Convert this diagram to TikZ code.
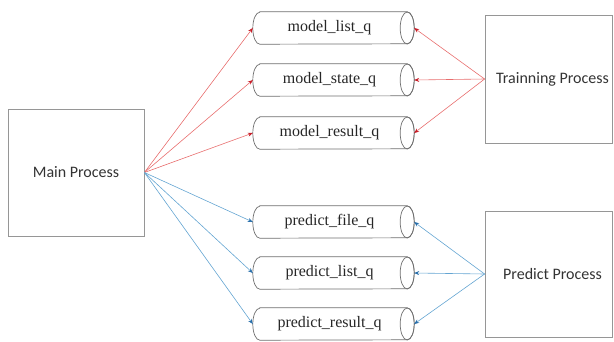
\documentclass[tikz,border=0pt]{standalone}
\usepackage{fontspec}
\setmainfont{Liberation Serif}
\newfontfamily\procfont{Carlito}
\usetikzlibrary{arrows.meta}
\definecolor{redline}{RGB}{232,110,110}
\definecolor{redtip}{RGB}{200,30,40}
\definecolor{blueline}{RGB}{100,165,210}
\definecolor{bluetip}{RGB}{40,110,170}
\definecolor{boxline}{RGB}{150,150,150}
\definecolor{cylline}{RGB}{110,110,110}
\tikzset{
  procbox/.style={draw=boxline, line width=0.8pt, rectangle, inner sep=0pt,
    font=\procfont\fontsize{16}{18}\selectfont, text=black!80},
  queue/.style={rectangle, minimum width=161pt, minimum height=32pt, inner sep=0pt,
    font=\fontsize{16}{18}\selectfont, text=black!85},
  queueline/.style={draw=cylline, line width=0.7pt},
  redarrow/.style={draw=redline, line width=0.6pt,
    -{Stealth[length=5pt,width=4pt,color=redtip]}},
  bluearrow/.style={draw=blueline, line width=0.6pt,
    -{Stealth[length=5pt,width=4pt,color=bluetip]}}
}
\begin{document}
\begin{tikzpicture}[x=1pt,y=1pt]
  \useasboundingbox (0,0) rectangle (614,-341);
  % process boxes
  \node[procbox, minimum width=136pt, minimum height=127pt] (main) at (76,-172.5) {Main Process};
  \node[procbox, minimum width=127pt, minimum height=128pt] (train) at (548.5,-79) {\hspace*{8pt}Trainning Process};
  \node[procbox, minimum width=127pt, minimum height=126pt] (pred) at (548.5,-274) {\hspace*{8pt}Predict Process};
  % queues
  \node[queue] (mlist) at (333.5,-28) {model\_list\_q\hspace*{8pt}};
  \node[queue] (mstate) at (333.5,-80) {model\_state\_q\hspace*{8pt}};
  \node[queue] (mres) at (333.5,-133) {model\_result\_q\hspace*{8pt}};
  \node[queue] (pfile) at (333.5,-222) {predict\_file\_q\hspace*{8pt}};
  \node[queue] (plist) at (333.5,-273) {predict\_list\_q\hspace*{8pt}};
  \node[queue] (pres) at (333.5,-324) {predict\_result\_q\hspace*{8pt}};
  % horizontal cylinders drawn round each queue node
  \foreach \q in {mlist,mstate,mres,pfile,plist,pres} {
    \draw[queueline] ([xshift=7pt]\q.north west) -- ([xshift=-7pt]\q.north east)
      arc[start angle=90, end angle=-90, x radius=7pt, y radius=16pt]
      -- ([xshift=7pt]\q.south west)
      arc[start angle=270, end angle=90, x radius=7pt, y radius=16pt] -- cycle;
    \draw[queueline] ([xshift=-7pt]\q.east) ellipse[x radius=7pt, y radius=16pt];
  }
  % main process to queues
  \foreach \q in {mlist,mstate,mres}
    \draw[redarrow] (main.east) -- (\q.west);
  \foreach \q in {pfile,plist,pres}
    \draw[bluearrow] (main.east) -- (\q.west);
  % workers to queues
  \foreach \q in {mlist,mstate,mres}
    \draw[redarrow] (train.west) -- (\q.east);
  \foreach \q in {pfile,plist,pres}
    \draw[bluearrow] (pred.west) -- (\q.east);
\end{tikzpicture}
\end{document}
